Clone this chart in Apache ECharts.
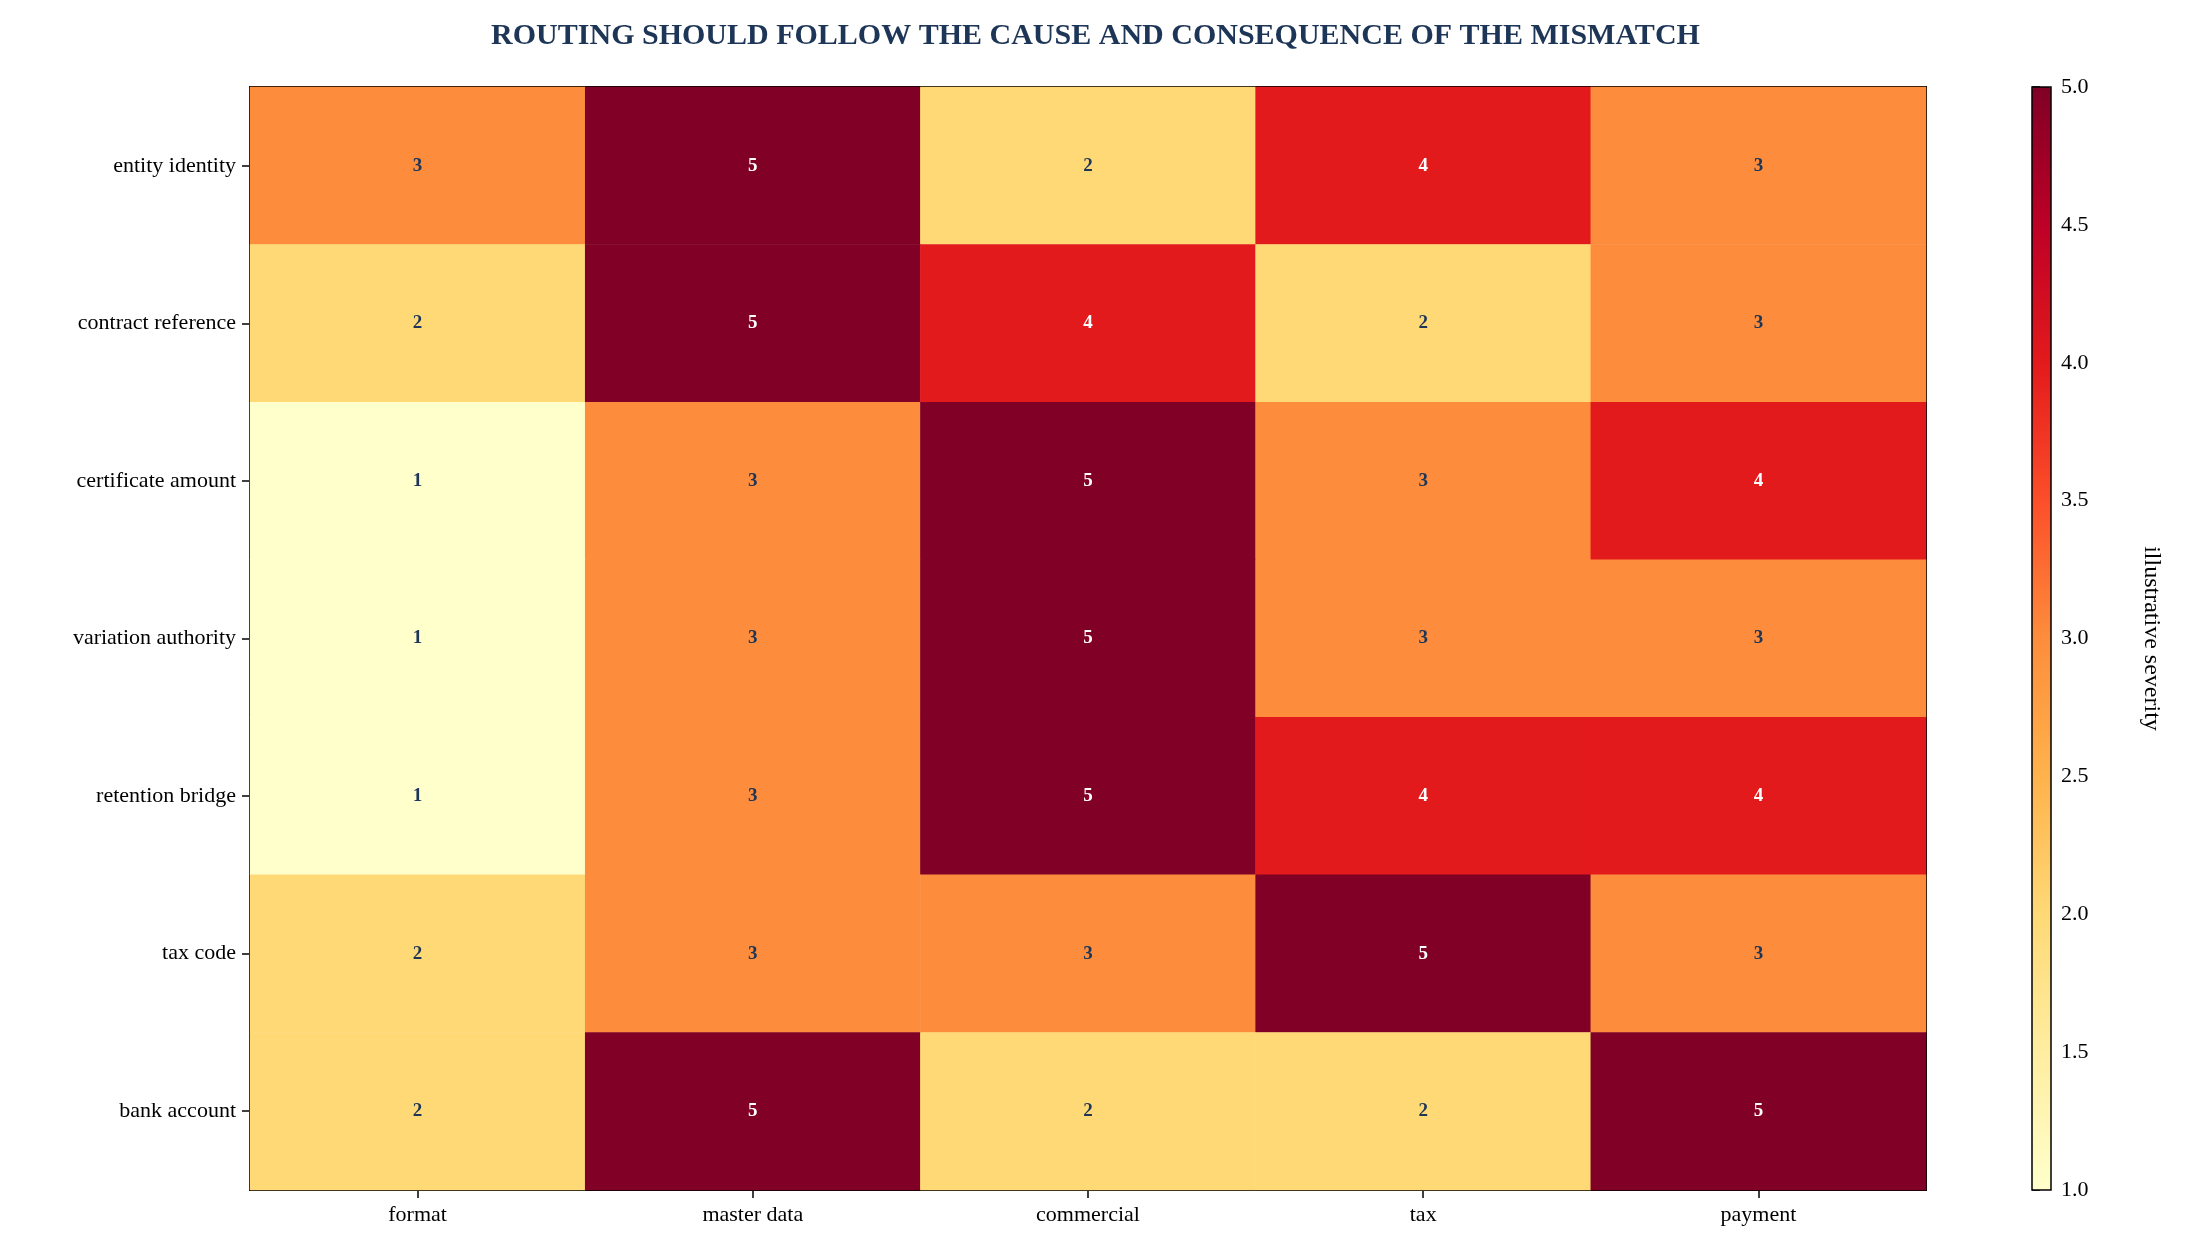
<!DOCTYPE html>
<html><head><meta charset="utf-8">
<script src="https://cdn.jsdelivr.net/npm/echarts@6/dist/echarts.min.js"></script>
<style>html,body{margin:0;padding:0;background:#fff}#c{width:2191px;height:1253px}</style>
</head><body><div id="c"></div>
<script>
const categories = ['format','master data','commercial','tax','payment'];
const rows = ['entity identity','contract reference','certificate amount','variation authority','retention bridge','tax code','bank account'];
const values = [
  [3,5,2,4,3],
  [2,5,4,2,3],
  [1,3,5,3,4],
  [1,3,5,3,3],
  [1,3,5,4,4],
  [2,3,3,5,3],
  [2,5,2,2,5]
];
const colorTicks = [1.0,1.5,2.0,2.5,3.0,3.5,4.0,4.5,5.0];
const data = [];
values.forEach((r,i)=>r.forEach((v,j)=>data.push([j,i,v])));
const F = 'Liberation Serif';
const chart = echarts.init(document.getElementById('c'));
chart.setOption({
  animation:false,
  title:{text:'ROUTING SHOULD FOLLOW THE CAUSE AND CONSEQUENCE OF THE MISMATCH',left:'center',top:16,
    textStyle:{fontFamily:F,fontSize:30,fontWeight:'bold',color:'#1d3557'}},
  grid:[
    {left:250,top:87,width:1676,height:1103,show:true,borderColor:'#000',borderWidth:2,backgroundColor:'transparent'},
    {left:2032,top:87,width:19,height:1103,show:true,borderColor:'#000',borderWidth:1.5,backgroundColor:'transparent',z:10}
  ],
  xAxis:[
    {type:'category',data:categories,gridIndex:0,axisLine:{show:false},axisTick:{show:true,length:8,lineStyle:{color:'#000',width:1.5},alignWithLabel:true},
      splitLine:{show:false},axisLabel:{fontFamily:F,fontSize:22,color:'#000',margin:14}},
    {type:'value',gridIndex:1,show:false,min:0,max:1}
  ],
  yAxis:[
    {type:'category',data:rows,inverse:true,gridIndex:0,axisLine:{show:false},axisTick:{show:true,length:8,lineStyle:{color:'#000',width:1.5},alignWithLabel:true},
      axisLabel:{fontFamily:F,fontSize:22,color:'#000',margin:14}},
    {type:'value',gridIndex:1,position:'right',min:1,max:5,interval:0.5,
      axisLine:{show:false},splitLine:{show:false},
      axisTick:{show:true,length:8,lineStyle:{color:'#000',width:1.5}},
      axisLabel:{fontFamily:F,fontSize:22,color:'#000',margin:10,formatter:v=>v.toFixed(1)},
      name:'illustrative severity',nameLocation:'middle',nameRotate:-90,nameGap:88,
      nameTextStyle:{fontFamily:F,fontSize:24,color:'#000'}}
  ],
  visualMap:{type:'continuous',min:1,max:5,seriesIndex:0,calculable:false,orient:'vertical',
    left:2032,top:87,itemWidth:19,itemHeight:1103,padding:0,text:null,showLabel:false,
    inRange:{color:['#ffffcc','#ffeda0','#fed976','#feb24c','#fd8d3c','#fc4e2a','#e31a1c','#bd0026','#800026']}},
  series:[{type:'heatmap',xAxisIndex:0,yAxisIndex:0,data:data,
    label:{show:true,fontFamily:F,fontSize:19,fontWeight:'bold',
      formatter:p=>String(p.value[2]),
      rich:{},
      color:'#1d3557'},
    itemStyle:{borderWidth:0}
  }]
});
// label colour by value
chart.setOption({series:[{data:data.map(d=>({value:d,label:{color:d[2]>=4?'#ffffff':'#1d3557'}}))}]});
</script></body></html>
